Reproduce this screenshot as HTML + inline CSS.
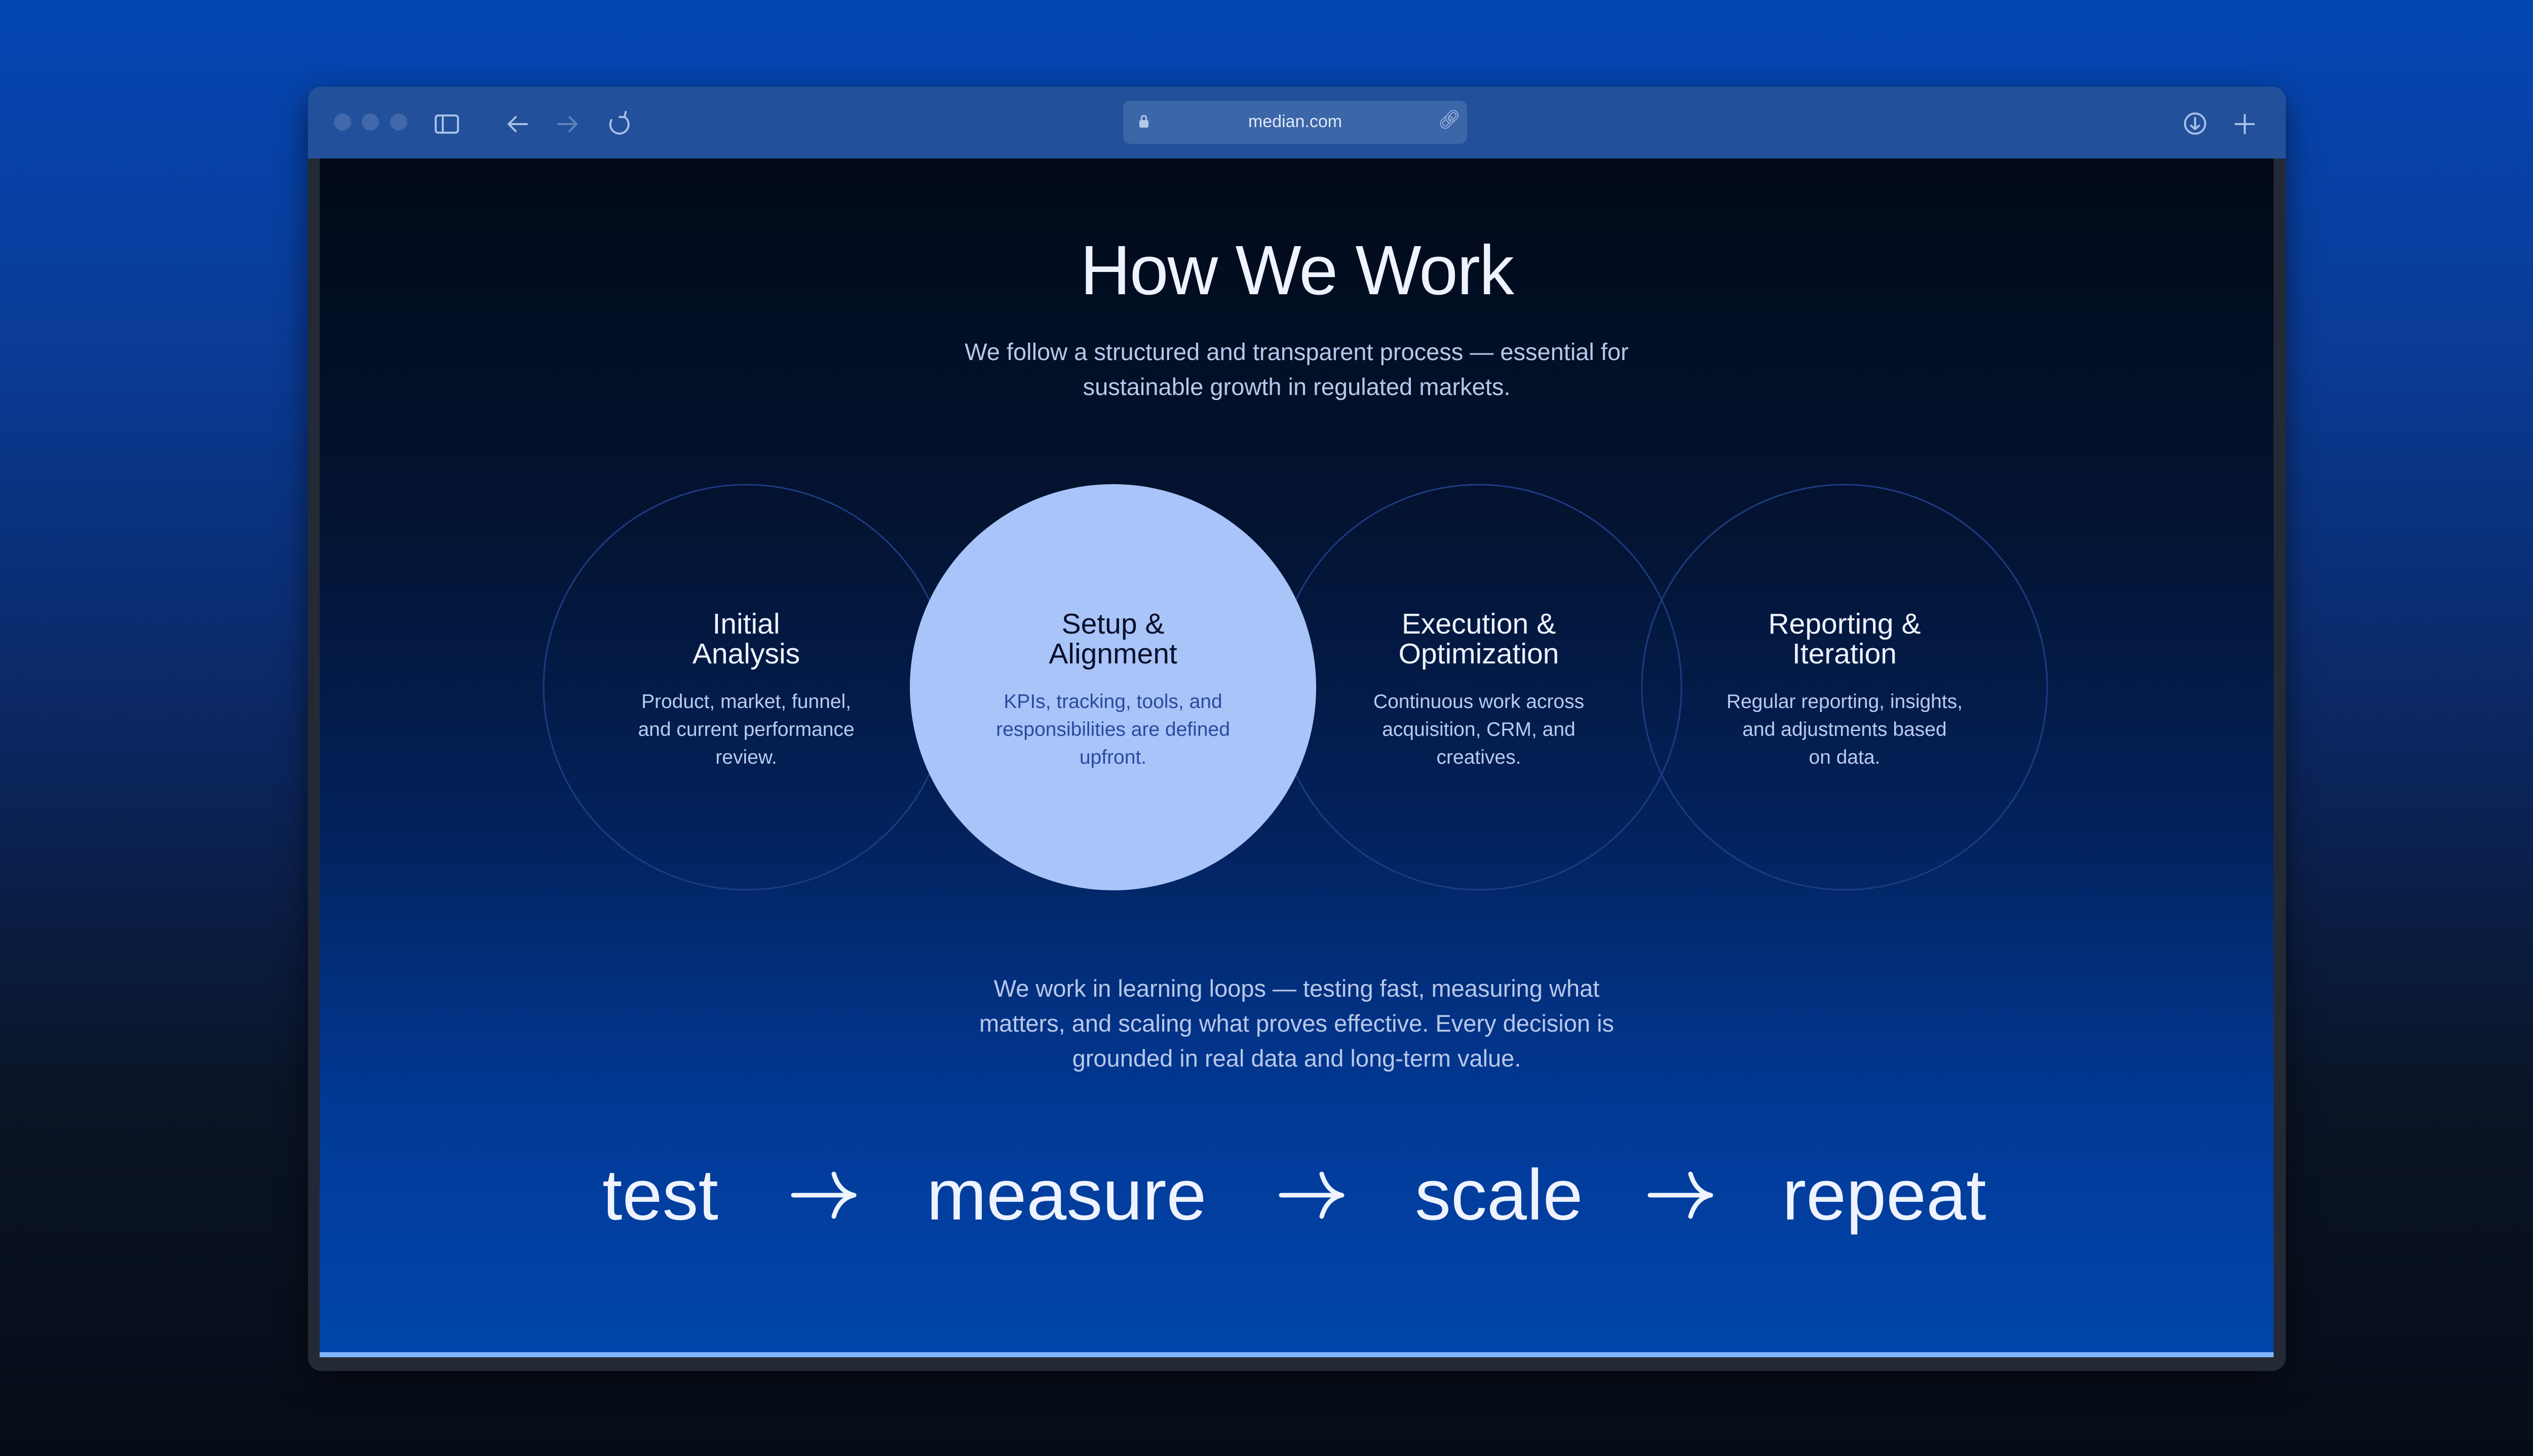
<!DOCTYPE html>
<html><head><meta charset="utf-8"><style>
*{margin:0;padding:0;box-sizing:border-box}
html,body{width:5120px;height:2875px;overflow:hidden}
body{position:relative;font-family:"Liberation Sans",sans-serif;background:linear-gradient(180deg,#0447b4 0%,#0a3a94 25%,#0b2356 55%,#0a1426 75%,#070d18 100%)}
.win{position:absolute;left:608px;top:171px;width:3904px;height:2536px;border-radius:26px;background:#242a35;box-shadow:0 20px 60px rgba(0,0,0,.5)}
.bar{position:absolute;left:0;top:0;width:100%;height:142px;border-radius:26px 26px 0 0;background:#22509a}
.content{position:absolute;left:23px;top:142px;width:3857px;height:2367px;background:linear-gradient(180deg,#020a18 0%,#031331 30%,#03215a 55%,#013a98 80%,#0045aa 100%);overflow:hidden}
.strip{position:absolute;left:0;bottom:0;width:100%;height:10px;background:#80b6ff}
.t{position:absolute;text-align:center;white-space:nowrap}
.dot{position:absolute;top:53px;width:34px;height:34px;border-radius:50%;background:#4168aa}
</style></head><body>
<div class="win">
 <div class="bar">
  <div class="dot" style="left:51px"></div><div class="dot" style="left:106px"></div><div class="dot" style="left:162px"></div>
  <svg style="position:absolute;left:0;top:0" width="3904" height="142">
   <g stroke="#a8bfe6" stroke-width="4" fill="none" stroke-linecap="round" stroke-linejoin="round">
    <rect x="252" y="57" width="44" height="34" rx="5"/><line x1="266" y1="57" x2="266" y2="91"/>
    <path d="M396 74 H432 M396 74 L410 60 M396 74 L410 88"/>
    <path d="M494 74 H530 M530 74 L516 60 M530 74 L516 88" stroke="#5f82bd"/>
    <path d="M625 60 A18 18 0 1 1 599 66 M625 60 L627 50 M625 60 L615 60"/>
    <circle cx="3725" cy="73" r="20"/><path d="M3725 62 V84 M3717 77 L3725 84 L3733 77"/>
    <path d="M3823 56 V92 M3805 74 H3841"/>
   </g>
  </svg>
  <div style="position:absolute;left:1609px;top:28px;width:679px;height:85px;border-radius:14px;background:#3b66a8"></div>
  <div style="position:absolute;left:1641px;top:66px;width:18px;height:15px;border-radius:3px;background:#b4c8ea"></div>
  <div style="position:absolute;left:1644px;top:56px;width:12px;height:14px;border:3px solid #b4c8ea;border-bottom:none;border-radius:6px 6px 0 0"></div>
  <div class="t" style="left:1609px;width:679px;top:50px;font-size:34px;color:#dfe8f8">median.com</div>
  <div class="t" style="left:2230px;top:44px;font-size:36px;color:#b4c8ea">&#x1F517;&#xFE0E;</div>
 </div>
 <div class="content">
  <div class="t" style="left:0;width:3857px;top:142px;font-size:138px;color:#eef3ff;letter-spacing:-2px">How We Work</div>
  <div class="t" style="left:0;width:3857px;top:347px;font-size:47px;line-height:69px;color:#b9c8ea">We follow a structured and transparent process — essential for<br>sustainable growth in regulated markets.</div>
  <svg style="position:absolute;left:0;top:0" width="3857" height="2367">
   <g fill="none" stroke="#1c3c82" stroke-width="3">
    <circle cx="842" cy="1044" r="400"/><circle cx="2288" cy="1044" r="400"/><circle cx="3010" cy="1044" r="400"/>
   </g>
   <circle cx="1566" cy="1044" r="401" fill="#a9c4f8"/>
   <g stroke="#eef3ff" stroke-width="9" fill="none" stroke-linecap="round" stroke-linejoin="round">
    <path d="M935 2047 H1050 M1015 2005 Q1025 2040 1055 2047 Q1025 2054 1015 2089"/>
    <path d="M1898 2047 H2013 M1978 2005 Q1988 2040 2018 2047 Q1988 2054 1978 2089"/>
    <path d="M2626 2047 H2741 M2706 2005 Q2716 2040 2746 2047 Q2716 2054 2706 2089"/>
   </g>
  </svg>
  <div class="t" style="left:442px;width:800px;top:890px;font-size:57px;line-height:59px;color:#eef3ff">Initial<br>Analysis</div>
  <div class="t" style="left:442px;width:800px;top:1045px;font-size:39px;line-height:55px;color:#b9cbf0">Product, market, funnel,<br>and current performance<br>review.</div>
  <div class="t" style="left:1166px;width:800px;top:890px;font-size:57px;line-height:59px;color:#08102a">Setup &amp;<br>Alignment</div>
  <div class="t" style="left:1166px;width:800px;top:1045px;font-size:39px;line-height:55px;color:#2a4aa0">KPIs, tracking, tools, and<br>responsibilities are defined<br>upfront.</div>
  <div class="t" style="left:1888px;width:800px;top:890px;font-size:57px;line-height:59px;color:#eef3ff">Execution &amp;<br>Optimization</div>
  <div class="t" style="left:1888px;width:800px;top:1045px;font-size:39px;line-height:55px;color:#b9cbf0">Continuous work across<br>acquisition, CRM, and<br>creatives.</div>
  <div class="t" style="left:2610px;width:800px;top:890px;font-size:57px;line-height:59px;color:#eef3ff">Reporting &amp;<br>Iteration</div>
  <div class="t" style="left:2610px;width:800px;top:1045px;font-size:39px;line-height:55px;color:#b9cbf0">Regular reporting, insights,<br>and adjustments based<br>on data.</div>
  <div class="t" style="left:0;width:3857px;top:1604px;font-size:47px;line-height:69px;color:#b9c8ea">We work in learning loops — testing fast, measuring what<br>matters, and scaling what proves effective. Every decision is<br>grounded in real data and long-term value.</div>
  <div class="t" style="left:558px;top:1965px;font-size:142px;color:#eef3ff">test</div>
  <div class="t" style="left:1198px;top:1965px;font-size:142px;color:#eef3ff">measure</div>
  <div class="t" style="left:2162px;top:1965px;font-size:142px;color:#eef3ff">scale</div>
  <div class="t" style="left:2887px;top:1965px;font-size:142px;color:#eef3ff">repeat</div>
  <div class="strip"></div>
 </div>
</div>
</body></html>
